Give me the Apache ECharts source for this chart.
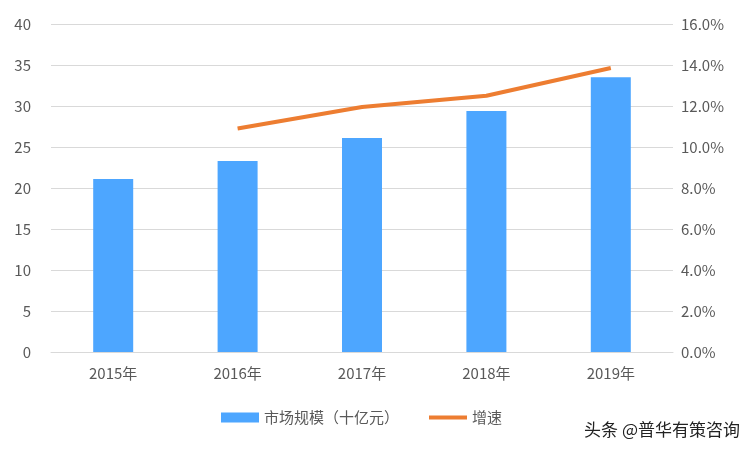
<!DOCTYPE html>
<html><head><meta charset="utf-8">
<script src="https://cdn.jsdelivr.net/npm/echarts@6/dist/echarts.min.js"></script>
<style>html,body{margin:0;padding:0;background:#fff}#c{width:752px;height:452px}</style>
</head><body><div id="c"></div>
<script>
const categories = ['2015年','2016年','2017年','2018年','2019年'];
const marketSize = [21.1, 23.3, 26.1, 29.4, 33.5];
const growth = [null, 10.9, 11.95, 12.5, 13.85];
const chart = echarts.init(document.getElementById('c'));
const font = '"Microsoft YaHei","Noto Sans CJK SC",sans-serif';
chart.setOption({
  animation:false,
  textStyle:{fontFamily:font},
  grid:{left:51,right:79,top:24,bottom:100},
  legend:{bottom:22,left:216,itemGap:30,textStyle:{fontSize:15,color:'#595959',fontFamily:font},
    data:[{name:'市场规模（十亿元）',icon:'rect',itemStyle:{}},{name:'增速',icon:'path://M0,0 L40,0 L40,4 L0,4 Z'}],itemWidth:38,itemHeight:10},
  xAxis:{type:'category',data:categories,axisTick:{show:false},axisLine:{lineStyle:{color:'#d9d9d9'}},
    axisLabel:{fontSize:15,color:'#595959',margin:14}},
  yAxis:[
    {type:'value',min:0,max:40,interval:5,axisLabel:{fontSize:15,color:'#595959',margin:20},
     splitLine:{lineStyle:{color:'#d9d9d9'}}},
    {type:'value',min:0,max:16,interval:2,axisLabel:{fontSize:15,color:'#595959',margin:8,formatter:v=>v.toFixed(1)+'%'},
     splitLine:{show:false}}
  ],
  series:[
    {name:'市场规模（十亿元）',type:'bar',data:marketSize,barWidth:40,itemStyle:{color:'#4da6ff'}},
    {name:'增速',type:'line',yAxisIndex:1,data:growth,symbol:'none',lineStyle:{color:'#ed7d31',width:4},itemStyle:{color:'#ed7d31'}}
  ],
  graphic:[{type:'text',right:12,bottom:14,style:{text:'头条 @普华有策咨询',fontSize:17,fill:'#222',fontFamily:font}}]
});
</script></body></html>
